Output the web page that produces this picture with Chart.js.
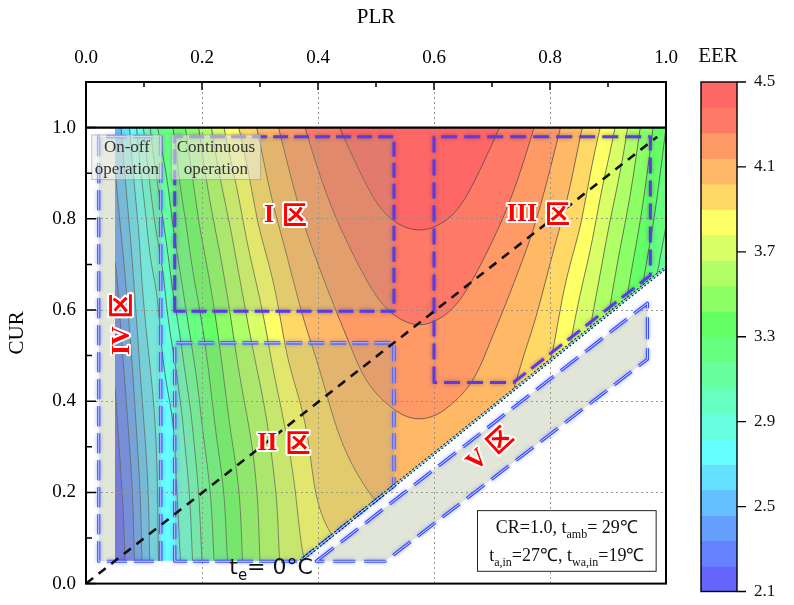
<!DOCTYPE html>
<html lang="en">
<head>
<meta charset="utf-8">
<title>EER map</title>
<script src="https://cdn.jsdelivr.net/npm/chart.js@4.4.1/dist/chart.umd.min.js"></script>
<style>
  html, body { margin: 0; padding: 0; background: #fff; }
  canvas { display: block; }
</style>
</head>
<body>
<canvas id="eerChart" width="794" height="605"></canvas>
<script>
// ===== EER FIELD (rows = CUR, columns = PLR) =====
const plrNodes = [0.05, 0.075, 0.1, 0.125, 0.15, 0.175, 0.2, 0.25, 0.3, 0.35, 0.4, 0.45,
                  0.5, 0.55, 0.6, 0.65, 0.7, 0.75, 0.8, 0.85, 0.9, 0.95, 1.0];
const curNodes = [0.05, 0.2, 0.35, 0.5, 0.65, 0.8, 1.0];
const eerCur005 = [2.12, 2.27, 2.49, 2.70, 2.77, 2.88, 3.06, 3.33, 3.54, 3.71, 3.83, 3.90,
                   3.95, 3.97, 3.97, 3.95, 3.90, 3.83, 3.71, 3.54, 3.33, 3.06, 2.77];
const eerCur020 = [2.15, 2.30, 2.52, 2.71, 2.79, 2.92, 3.10, 3.36, 3.56, 3.74, 3.91, 3.98,
                   4.03, 4.06, 4.06, 4.03, 3.98, 3.91, 3.74, 3.56, 3.36, 3.10, 2.79];
const eerCur035 = [2.19, 2.36, 2.58, 2.73, 2.82, 3.00, 3.18, 3.43, 3.61, 3.81, 3.96, 4.05,
                   4.10, 4.13, 4.13, 4.10, 4.05, 3.96, 3.81, 3.61, 3.43, 3.18, 2.82];
const eerCur050 = [2.24, 2.43, 2.65, 2.78, 2.93, 3.12, 3.26, 3.50, 3.70, 3.91, 4.03, 4.12,
                   4.19, 4.22, 4.22, 4.19, 4.12, 4.03, 3.91, 3.70, 3.50, 3.26, 2.93];
const eerCur065 = [2.30, 2.51, 2.72, 2.85, 3.07, 3.23, 3.35, 3.58, 3.80, 3.99, 4.11, 4.20,
                   4.27, 4.30, 4.30, 4.27, 4.20, 4.11, 3.99, 3.80, 3.58, 3.35, 3.07];
const eerCur080 = [2.40, 2.59, 2.79, 3.00, 3.19, 3.32, 3.45, 3.68, 3.92, 4.08, 4.20, 4.29,
                   4.36, 4.39, 4.39, 4.36, 4.29, 4.20, 4.08, 3.92, 3.68, 3.45, 3.19];
const eerCur100 = [2.50, 2.70, 2.95, 3.19, 3.30, 3.44, 3.57, 3.84, 4.04, 4.19, 4.31, 4.40,
                   4.46, 4.49, 4.49, 4.46, 4.40, 4.31, 4.19, 4.04, 3.84, 3.57, 3.30];
const eerRows = [eerCur005, eerCur020, eerCur035, eerCur050, eerCur065, eerCur080, eerCur100];

// contour levels and fill colours
const eerLevels = [2.1, 2.22, 2.34, 2.46, 2.58, 2.7, 2.82, 2.94, 3.06, 3.18, 3.3,
                   3.42, 3.54, 3.66, 3.78, 3.9, 4.02, 4.14, 4.26, 4.38, 4.5];
const levelColors = ['#6666ff', '#6682ff', '#66a0ff', '#66c0ff', '#66e0ff', '#66ffff',
                     '#66ffe0', '#66ffc0', '#66ffa0', '#66ff80', '#66ff66', '#8cff66',
                     '#b0ff66', '#d8ff66', '#ffff66', '#ffd866', '#ffb866', '#ff9a66',
                     '#ff7a66', '#ff6666'];
const cbTicks = [2.1, 2.5, 2.9, 3.3, 3.7, 4.1, 4.5];

// axes
const xTicks = [0, 0.2, 0.4, 0.6, 0.8, 1.0];
const yTicks = [0, 0.2, 0.4, 0.6, 0.8, 1.0];
const xMinor = [0.1, 0.3, 0.5, 0.7, 0.9];
const yMinor = [0.1, 0.3, 0.5, 0.7, 0.9];

// lines
const teLinePLR = [0.37, 1.0];
const teLineCUR = [0.05, 0.693];
const diagPLR = [0, 0.985];
const diagCUR = [0, 0.98];
const topLinePLR = [0, 1.0];
const topLineCUR = [1.0, 1.0];

// valid domain of the map (cut by te = 0 line)
const domainPLR = [0.05, teLinePLR[0], teLinePLR[1], 1.0, 0.05];
const domainCUR = [0.05, teLineCUR[0], teLineCUR[1], 1.0, 1.0];

// operating regions
const regionIPLR = [0.153, 0.153, 0.531, 0.531];
const regionICUR = [0.597, 0.98, 0.98, 0.597];
const regionIIPLR = [0.153, 0.153, 0.531, 0.531, 0.368];
const regionIICUR = [0.049, 0.528, 0.528, 0.214, 0.049];
const regionIIIPLR = [0.6, 0.6, 0.973, 0.973, 0.737];
const regionIIICUR = [0.441, 0.98, 0.98, 0.676, 0.441];
const regionIVPLR = [0.022, 0.022, 0.129, 0.129];
const regionIVCUR = [0.049, 0.98, 0.98, 0.049];
const regionVPLR = [0.397, 0.968, 0.968, 0.516];
const regionVCUR = [0.049, 0.615, 0.492, 0.049];

const SERIF = '"Liberation Serif", "Times New Roman", serif';
const SANS = '"DejaVu Sans", sans-serif';
const CJK = '"Noto Sans CJK SC", sans-serif';

// ===== HELPERS =====
// piecewise cubic Hermite on a non-uniform grid
function hermite(xs, vs, t) {
  const n = xs.length;
  let i = 0;
  while (i < n - 2 && t > xs[i + 1]) i++;
  const slope = k => {
    if (k === 0) return (vs[1] - vs[0]) / (xs[1] - xs[0]);
    if (k === n - 1) return (vs[n - 1] - vs[n - 2]) / (xs[n - 1] - xs[n - 2]);
    return (vs[k + 1] - vs[k - 1]) / (xs[k + 1] - xs[k - 1]);
  };
  const h = xs[i + 1] - xs[i];
  const s = (t - xs[i]) / h;
  const s2 = s * s, s3 = s2 * s;
  return (2 * s3 - 3 * s2 + 1) * vs[i] + (s3 - 2 * s2 + s) * h * slope(i) +
         (-2 * s3 + 3 * s2) * vs[i + 1] + (s3 - s2) * h * slope(i + 1);
}

const clampTo = (t, xs) => Math.min(xs[xs.length - 1], Math.max(xs[0], t));

function columnAt(plr) {
  const p = clampTo(plr, plrNodes);
  return eerRows.map(r => hermite(plrNodes, r, p));
}

function polyPath(ctx, xs, ys, plr, cur) {
  ctx.beginPath();
  plr.forEach((p, i) => {
    const X = xs.getPixelForValue(p), Y = ys.getPixelForValue(cur[i]);
    if (i === 0) ctx.moveTo(X, Y); else ctx.lineTo(X, Y);
  });
  ctx.closePath();
}

function hexRgb(c) {
  return [parseInt(c.slice(1, 3), 16), parseInt(c.slice(3, 5), 16), parseInt(c.slice(5, 7), 16)];
}

// text made of runs, some of them subscripts
function drawRuns(ctx, runs, cx, baseline, size, family) {
  const fontOf = r => `${r.sub ? Math.round(size * 0.68) : size}px ${family}`;
  let total = 0;
  runs.forEach(r => { ctx.font = fontOf(r); total += ctx.measureText(r.t).width; });
  let xPos = cx - total / 2;
  ctx.textAlign = 'left';
  ctx.textBaseline = 'alphabetic';
  runs.forEach(r => {
    ctx.font = fontOf(r);
    ctx.fillText(r.t, xPos, baseline + (r.sub ? size * 0.28 : 0));
    xPos += ctx.measureText(r.t).width;
  });
}

// red region tag such as "II区"
function drawTag(ctx, roman, cx, cy, angle) {
  const romanFont = `bold 26px ${SERIF}`;
  const cjkFont = `bold 25px ${CJK}`;
  ctx.save();
  ctx.translate(cx, cy);
  ctx.rotate(angle);
  ctx.font = romanFont;
  const w1 = ctx.measureText(roman).width;
  ctx.font = cjkFont;
  const w2 = ctx.measureText('区').width;
  const gap = 8;
  const x0 = -(w1 + gap + w2) / 2;
  ctx.textBaseline = 'middle';
  ctx.textAlign = 'left';
  ctx.lineJoin = 'round';
  ctx.lineWidth = 4;
  ctx.strokeStyle = '#ffffff';
  ctx.fillStyle = '#ff0000';
  ctx.font = romanFont;
  ctx.strokeText(roman, x0, 1);
  ctx.fillText(roman, x0, 1);
  ctx.font = cjkFont;
  ctx.strokeText('区', x0 + w1 + gap, 0);
  ctx.fillText('区', x0 + w1 + gap, 0);
  ctx.restore();
}

// ===== DRAWING STEPS =====
function drawField(chart) {
  const { ctx, chartArea: a, scales: { x, y } } = chart;
  const w = Math.ceil(a.right - a.left), h = Math.ceil(a.bottom - a.top);
  const off = document.createElement('canvas');
  off.width = w; off.height = h;
  const octx = off.getContext('2d');
  const img = octx.createImageData(w, h);
  const rgb = levelColors.map(hexRgb);
  const nb = levelColors.length;

  // filled bands
  for (let i = 0; i < w; i++) {
    const col = columnAt(x.getValueForPixel(a.left + i + 0.5));
    for (let j = 0; j < h; j++) {
      const cur = clampTo(y.getValueForPixel(a.top + j + 0.5), curNodes);
      const v = hermite(curNodes, col, cur);
      let k = 0;
      while (k < nb - 1 && v >= eerLevels[k + 1]) k++;
      const p = (j * w + i) * 4;
      img.data[p] = rgb[k][0];
      img.data[p + 1] = rgb[k][1];
      img.data[p + 2] = rgb[k][2];
      img.data[p + 3] = 255;
    }
  }
  octx.putImageData(img, 0, 0);

  ctx.save();
  polyPath(ctx, x, y, domainPLR, domainCUR);
  ctx.clip();
  ctx.drawImage(off, a.left, a.top);

  // contour lines by marching squares
  const step = 2;
  const nx = Math.floor(w / step) + 1, ny = Math.floor(h / step) + 1;
  const g = new Float64Array(nx * ny);
  for (let i = 0; i < nx; i++) {
    const col = columnAt(x.getValueForPixel(a.left + i * step));
    for (let j = 0; j < ny; j++) {
      const cur = clampTo(y.getValueForPixel(a.top + j * step), curNodes);
      g[j * nx + i] = hermite(curNodes, col, cur);
    }
  }
  ctx.beginPath();
  for (let L = 1; L < eerLevels.length - 1; L++) {
    const lv = eerLevels[L];
    for (let i = 0; i < nx - 1; i++) {
      for (let j = 0; j < ny - 1; j++) {
        const v00 = g[j * nx + i], v10 = g[j * nx + i + 1];
        const v11 = g[(j + 1) * nx + i + 1], v01 = g[(j + 1) * nx + i];
        const X0 = a.left + i * step, Y0 = a.top + j * step;
        const pts = [];
        const edge = (va, vb, xa, ya, xb, yb) => {
          if ((va < lv) !== (vb < lv)) {
            const t = (lv - va) / (vb - va);
            pts.push([xa + (xb - xa) * t, ya + (yb - ya) * t]);
          }
        };
        edge(v00, v10, X0, Y0, X0 + step, Y0);
        edge(v10, v11, X0 + step, Y0, X0 + step, Y0 + step);
        edge(v11, v01, X0 + step, Y0 + step, X0, Y0 + step);
        edge(v01, v00, X0, Y0 + step, X0, Y0);
        for (let q = 0; q + 1 < pts.length; q += 2) {
          ctx.moveTo(pts[q][0], pts[q][1]);
          ctx.lineTo(pts[q + 1][0], pts[q + 1][1]);
        }
      }
    }
  }
  ctx.strokeStyle = 'rgba(70,70,70,0.8)';
  ctx.lineWidth = 0.9;
  ctx.stroke();
  ctx.restore();
}

function outline(ctx, x, y, plr, cur, opt) {
  polyPath(ctx, x, y, plr, cur);
  ctx.setLineDash(opt.dash);
  ctx.lineJoin = 'round';
  ctx.shadowColor = opt.glow;
  ctx.shadowBlur = 4;
  ctx.strokeStyle = opt.color;
  ctx.lineWidth = opt.width;
  ctx.stroke();
  ctx.shadowColor = 'transparent';
  ctx.shadowBlur = 0;
  if (opt.core) {
    ctx.strokeStyle = opt.core;
    ctx.lineWidth = 1;
    ctx.stroke();
  }
  ctx.setLineDash([]);
}

function drawRegions(chart) {
  const { ctx, chartArea: a, scales: { x, y } } = chart;
  ctx.save();
  ctx.beginPath();
  ctx.rect(a.left, a.top, a.right - a.left, a.bottom - a.top);
  ctx.clip();

  const shade = 'rgba(160,172,125,0.3)';
  [[regionIVPLR, regionIVCUR], [regionIPLR, regionICUR],
   [regionIIPLR, regionIICUR], [regionVPLR, regionVCUR]].forEach(([p, c]) => {
    polyPath(ctx, x, y, p, c);
    ctx.fillStyle = shade;
    ctx.fill();
  });

  const blue = { color: '#3a4cff', core: 'rgba(220,228,255,0.95)', width: 3.2, glow: 'rgba(50,70,255,0.45)' };
  const violet = { color: '#5b3be4', width: 3, glow: 'rgba(40,20,110,0.45)' };
  outline(ctx, x, y, regionIVPLR, regionIVCUR, { ...blue, dash: [20, 7] });
  outline(ctx, x, y, regionIIPLR, regionIICUR, { ...blue, dash: [16, 6] });
  outline(ctx, x, y, regionVPLR, regionVCUR, { ...blue, dash: [22, 9] });
  outline(ctx, x, y, regionIPLR, regionICUR, { ...violet, dash: [15, 6] });
  outline(ctx, x, y, regionIIIPLR, regionIIICUR, { ...violet, dash: [16, 7] });
  ctx.restore();
}

function drawNotes(chart) {
  const { ctx, scales: { x, y } } = chart;
  const px = v => x.getPixelForValue(v), py = v => y.getPixelForValue(v);

  // operation mode labels
  const modeBox = (p0, p1, c0, c1, lines) => {
    const l = px(p0), r = px(p1), t = py(c0), b = py(c1);
    ctx.fillStyle = 'rgba(238,240,228,0.55)';
    ctx.fillRect(l, t, r - l, b - t);
    ctx.strokeStyle = 'rgba(150,150,150,0.6)';
    ctx.lineWidth = 1;
    ctx.strokeRect(l, t, r - l, b - t);
    ctx.fillStyle = '#333333';
    ctx.font = `17px ${SERIF}`;
    ctx.textAlign = 'center';
    ctx.textBaseline = 'middle';
    ctx.fillText(lines[0], (l + r) / 2, t + 13);
    ctx.fillText(lines[1], (l + r) / 2, t + 35);
  };
  modeBox(0.01, 0.131, 0.984, 0.886, ['On-off', 'operation']);
  modeBox(0.147, 0.301, 0.984, 0.886, ['Continuous', 'operation']);

  // region tags
  drawTag(ctx, 'I', px(0.344), py(0.81), 0);
  drawTag(ctx, 'II', px(0.341), py(0.309), 0);
  drawTag(ctx, 'III', px(0.78), py(0.812), 0);
  drawTag(ctx, 'IV', px(0.06), py(0.569), -Math.PI / 2);
  drawTag(ctx, 'V', px(0.695), py(0.296), -0.74);

  // te = 0 label
  ctx.fillStyle = '#111';
  ctx.textAlign = 'left';
  ctx.textBaseline = 'alphabetic';
  let tx = px(0.247);
  const tb = py(0.022);
  ctx.font = `22px ${SANS}`;
  ctx.fillText('t', tx, tb);
  tx += ctx.measureText('t').width;
  ctx.font = `15px ${SANS}`;
  ctx.fillText('e', tx, tb + 6);
  tx += ctx.measureText('e').width;
  ctx.font = `22px ${SANS}`;
  ctx.fillText('= 0°C', tx, tb);

  // operating condition box
  const l = px(0.675), r = px(0.983), t = py(0.16), b = py(0.027);
  ctx.fillStyle = '#ffffff';
  ctx.fillRect(l, t, r - l, b - t);
  ctx.strokeStyle = '#222';
  ctx.lineWidth = 1;
  ctx.strokeRect(l, t, r - l, b - t);
  ctx.fillStyle = '#111';
  const mid = (l + r) / 2;
  drawRuns(ctx, [{ t: 'CR=1.0, t' }, { t: 'amb', sub: true }, { t: '= 29℃' }], mid, t + 22, 18, SERIF);
  drawRuns(ctx, [{ t: 't' }, { t: 'a,in', sub: true }, { t: '=27℃, t' }, { t: 'wa,in', sub: true }, { t: '=19℃' }],
           mid, t + 50, 18, SERIF);
}

function drawFrame(chart) {
  const { ctx, chartArea: a, scales: { x, y } } = chart;
  ctx.save();
  ctx.strokeStyle = '#000';
  ctx.lineWidth = 2;
  ctx.strokeRect(a.left, a.top, a.right - a.left, a.bottom - a.top);
  ctx.lineWidth = 1.5;
  ctx.beginPath();
  xTicks.forEach(v => { const X = x.getPixelForValue(v); ctx.moveTo(X, a.top); ctx.lineTo(X, a.top + 8); });
  xMinor.forEach(v => { const X = x.getPixelForValue(v); ctx.moveTo(X, a.top); ctx.lineTo(X, a.top + 5); });
  yTicks.forEach(v => { const Y = y.getPixelForValue(v); ctx.moveTo(a.left, Y); ctx.lineTo(a.left + 10, Y); });
  yMinor.forEach(v => { const Y = y.getPixelForValue(v); ctx.moveTo(a.left, Y); ctx.lineTo(a.left + 6, Y); });
  ctx.stroke();
  ctx.restore();
}

function drawColorbar(chart) {
  const { ctx } = chart;
  const left = 701, right = 737, top = 82, bottom = 591.5;
  const lo = eerLevels[0], hi = eerLevels[eerLevels.length - 1];
  const pos = v => bottom - (v - lo) / (hi - lo) * (bottom - top);
  ctx.save();
  levelColors.forEach((c, k) => {
    const y0 = pos(eerLevels[k + 1]), y1 = pos(eerLevels[k]);
    ctx.fillStyle = c;
    ctx.fillRect(left, y0, right - left, y1 - y0 + 0.5);
  });
  ctx.strokeStyle = '#000';
  ctx.lineWidth = 1.4;
  ctx.strokeRect(left, top, right - left, bottom - top);
  ctx.beginPath();
  cbTicks.forEach(v => { ctx.moveTo(right, pos(v)); ctx.lineTo(right + 9, pos(v)); });
  ctx.stroke();
  ctx.fillStyle = '#111';
  ctx.font = `17px ${SERIF}`;
  ctx.textAlign = 'left';
  ctx.textBaseline = 'middle';
  cbTicks.forEach(v => ctx.fillText(v.toFixed(1), right + 17, pos(v)));
  ctx.font = `21px ${SERIF}`;
  ctx.textAlign = 'center';
  ctx.fillText('EER', 718, 56);
  ctx.restore();
}

const eerMapPlugin = {
  id: 'eerMap',
  beforeDraw: drawField,
  beforeDatasetsDraw: drawRegions,
  afterDatasetsDraw: drawNotes,
  afterDraw(chart) { drawFrame(chart); drawColorbar(chart); }
};

// ===== CHART =====
const toPoints = (px, py) => px.map((v, i) => ({ x: v, y: py[i] }));

new Chart(document.getElementById('eerChart').getContext('2d'), {
  type: 'scatter',
  data: {
    datasets: [
      { label: 'CUR = PLR', data: toPoints(diagPLR, diagCUR), showLine: true,
        borderColor: '#111', borderWidth: 2.6, borderDash: [9, 7], pointRadius: 0 },
      { label: 'CUR = 1.0', data: toPoints(topLinePLR, topLineCUR), showLine: true,
        borderColor: '#000', borderWidth: 2.2, pointRadius: 0 },
      { label: 'te base', data: toPoints(teLinePLR, teLineCUR), showLine: true,
        borderColor: '#7fd8ff', borderWidth: 1.2, pointRadius: 0 },
      { label: 'te = 0', data: toPoints(teLinePLR, teLineCUR), showLine: true,
        borderColor: '#000', borderWidth: 3, borderDash: [2, 2], pointRadius: 0 }
    ]
  },
  options: {
    responsive: false,
    animation: false,
    devicePixelRatio: 1,
    layout: { padding: { left: 0, top: 0, right: 128, bottom: 17 } },
    plugins: { legend: { display: false }, tooltip: { enabled: false } },
    scales: {
      x: {
        type: 'linear', position: 'top', min: 0, max: 1,
        afterBuildTicks: s => { s.ticks = xTicks.map(v => ({ value: v })); },
        afterFit: s => { s.height = 82; },
        ticks: { callback: v => v.toFixed(1), color: '#000', padding: 13,
                 font: { family: SERIF, size: 19 }, maxRotation: 0, autoSkip: false },
        grid: { color: '#8a8a8a', lineWidth: 0.9, drawTicks: false },
        border: { display: false, dash: [2, 3] },
        title: { display: true, text: 'PLR', color: '#000',
                 font: { family: SERIF, size: 21 }, padding: { top: 5, bottom: 0 } }
      },
      y: {
        type: 'linear', position: 'left', min: 0, max: 1.1,
        afterBuildTicks: s => { s.ticks = yTicks.map(v => ({ value: v })); },
        afterFit: s => { s.width = 86; },
        ticks: { callback: v => v.toFixed(1), color: '#000', padding: 10,
                 font: { family: SERIF, size: 19 }, autoSkip: false },
        grid: { color: '#8a8a8a', lineWidth: 0.9, drawTicks: false },
        border: { display: false, dash: [2, 3] },
        title: { display: true, text: 'CUR', color: '#000',
                 font: { family: SERIF, size: 21 }, padding: { top: 5, bottom: 0 } }
      }
    }
  },
  plugins: [eerMapPlugin]
});
</script>
</body>
</html>
